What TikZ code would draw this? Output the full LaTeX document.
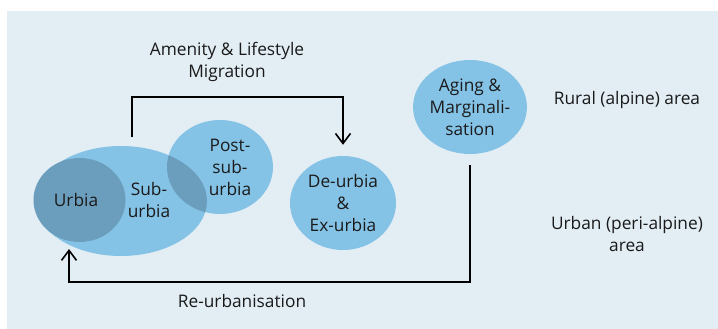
\documentclass[tikz,border=0pt]{standalone}
\usepackage{fontspec}
\setmainfont{Open Sans}
\usetikzlibrary{shapes.geometric,arrows.meta}
\definecolor{bg}{HTML}{E2EDF4}
\definecolor{lb}{HTML}{85C3E6}
\definecolor{db}{HTML}{6B9EBD}
\definecolor{tx}{HTML}{1A1A1A}
\tikzset{
  blob/.style={ellipse, inner sep=0pt, fill=lb, text=tx, align=center},
  lbl/.style={text=tx, align=center, inner sep=0pt},
  arr/.style={draw=black, line width=1.8pt, -{Straight Barb[length=10pt,width=15pt,line width=1.6pt]}},
}
\begin{document}
\begin{tikzpicture}[x=1pt,y=-1pt,font=\fontsize{17.3}{22}\selectfont]
\useasboundingbox (0,0) rectangle (718,329);
\fill[bg] (7,11) rectangle (718,329);
% ellipses
\node[blob, minimum width=172pt, minimum height=110pt] (suburbia) at (121,201) {};
\node[blob, minimum width=106pt, minimum height=94pt] (postsub) at (220,167) {};
\begin{scope}
  \clip (121,201) ellipse (86pt and 55pt);
  \fill[db] (220,167) ellipse (53pt and 47pt);
\end{scope}
\node[blob, fill=db, minimum width=92pt, minimum height=84pt] (urbia) at (79.5,200) {};
\node[blob, minimum width=106pt, minimum height=94pt] (deurbia) at (343,203) {De-urbia\\\&\\Ex-urbia};
\node[blob, minimum width=106pt, minimum height=94pt] (aging) at (470,107) {Aging \&\\Marginali-\\sation};
% labels
\node[lbl] (urbiatxt) at (76,200) {Urbia};
\node[lbl] (subtxt) at (149,200) {Sub-\\urbia};
\node[lbl] (posttxt) at (230,167) {Post-\\sub-\\urbia};
\node[lbl] (amen) at (227,62) {Amenity \& Lifestyle\\Migration};
\node[lbl] (reurb) at (242,301) {Re-urbanisation};
\node[lbl] (rural) at (627,100) {Rural (alpine) area};
\node[lbl] (urban) at (627,234) {Urban (peri-alpine)\\area};
% connectors
\coordinate (a1) at (132,137);
\coordinate (top) at (0,97);
\draw[arr, shorten >=11pt] (a1) -- (a1 |- top) -| (deurbia.north);
\coordinate (bot) at (0,282);
\coordinate (rtip) at (69,249);
\draw[arr, shorten <=11pt] (aging.south) -- (aging.south |- bot) -| (rtip);
\end{tikzpicture}
\end{document}
